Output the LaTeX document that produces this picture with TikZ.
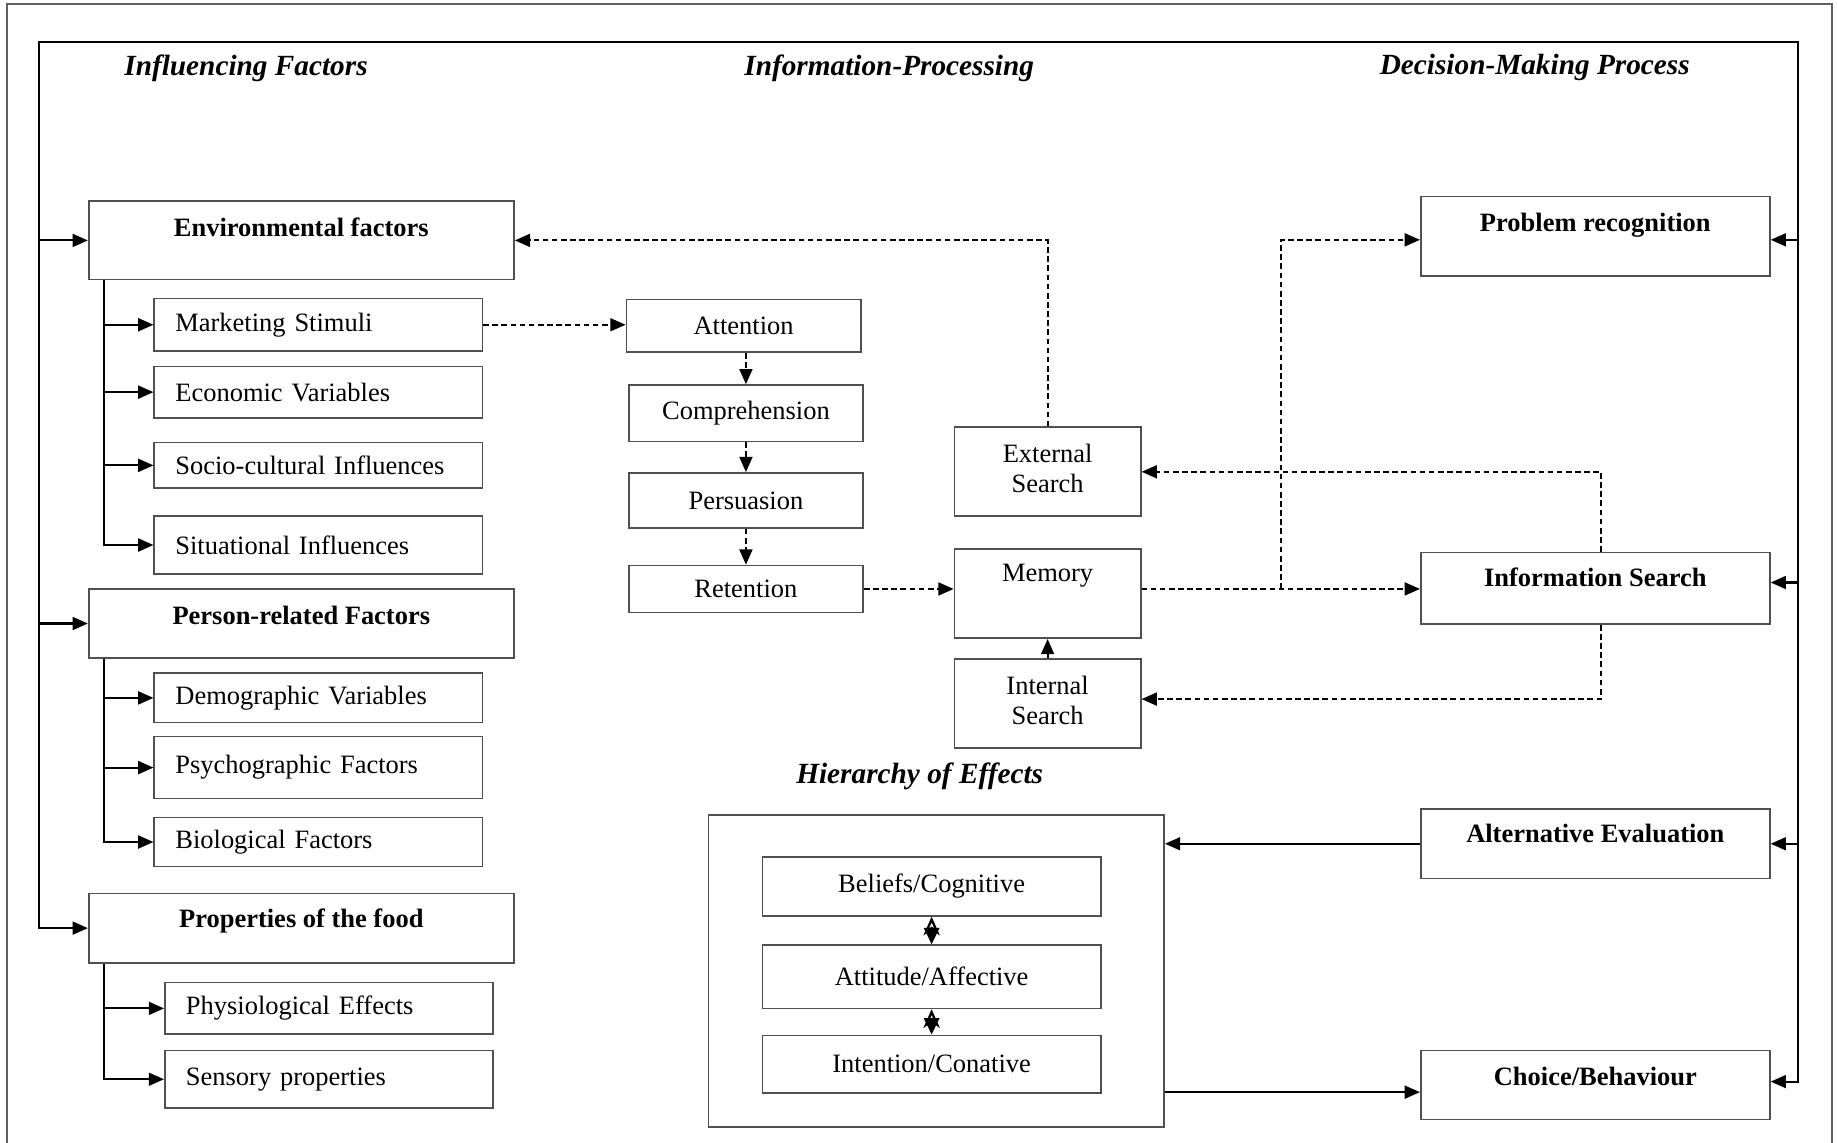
\documentclass[tikz,border=0pt]{standalone}
\usepackage{fontspec}
\setmainfont{Liberation Serif}
\usetikzlibrary{arrows.meta,calc}
\definecolor{boxgray}{HTML}{505050}
\definecolor{rimgray}{HTML}{606060}

\begin{document}
\begin{tikzpicture}[x=0.5pt,y=-0.5pt,
  txt/.style={font=\fontsize{11.3}{13.5}\selectfont},
  bold/.style={font=\fontsize{11.3}{13.5}\selectfont\bfseries},
  hdr/.style={font=\fontsize{12.5}{15}\selectfont\bfseries\itshape, inner sep=0pt},
  box/.style={draw=boxgray, line width=0.7pt, inner sep=0pt, anchor=north west},
  % box with its title near the top edge
  titlebox/.style n args={3}{box, bold, minimum width=#1, text height=#2, text depth=#3},
  % box with a left-aligned single line
  subbox/.style={box, txt, inner xsep=9pt, text width=122pt, align=left, minimum height=#1},
  % box with centred text
  cbox/.style n args={2}{box, txt, align=center, minimum width=#1, minimum height=#2},
  tip/.style={-{Triangle[length=6.5pt,width=5.5pt]}},
  conn/.style={draw=black, line width=0.9pt, tip},
  dconn/.style={draw=black, line width=0.85pt, dash pattern=on 2.4pt off 1.5pt, tip},
  both/.style={draw=black, line width=1pt,
    {Triangle[length=7pt,width=6.5pt]}-{Stealth[length=8pt,width=7pt,inset=2.5pt,open]}}
]
\useasboundingbox (0,0) rectangle (1568,975);

% outer rim of the figure
\draw[rimgray, line width=0.9pt] (6,1000) -- (6,3.5) -- (1564,3.5) -- (1564,1000);

% column headings
\node[hdr] (hIF) at (210,58) {Influencing Factors};
\node[hdr] (hIP) at (759,58) {Information-Processing};
\node[hdr] (hDM) at (1310,58) {Decision-Making Process};
\node[hdr] (hHE) at (785,663) {Hierarchy of Effects};

% influencing factors
\node[titlebox={181.5pt}{15pt}{18.5pt}] (env) at (75,171) {Environmental factors};
\node[subbox=22.5pt] (mkt) at (131,254) {Marketing Stimuli};
\node[subbox=22pt] (econ) at (131,312) {Economic Variables};
\node[subbox=19.5pt] (socio) at (131,377) {Socio-cultural Influences};
\node[subbox=24.5pt] (situ) at (131,440) {Situational Influences};

\node[titlebox={181.5pt}{15pt}{14.5pt}] (pers) at (75,502) {Person-related Factors};
\node[subbox=21pt] (demo) at (131,574) {Demographic Variables};
\node[subbox=26.5pt] (psych) at (131,628) {Psychographic Factors};
\node[subbox=21pt] (bio) at (131,697) {Biological Factors};

\node[titlebox={181.5pt}{14.5pt}{15pt}] (prop) at (75,762) {Properties of the food};
\node[subbox=22pt] (physio) at (140,838) {Physiological Effects};
\node[subbox=24.5pt] (sens) at (140,896) {Sensory properties};

% information processing
\node[cbox={100pt}{22.5pt}] (att) at (534,255) {Attention};
\node[cbox={100pt}{24pt}] (comp) at (536,328) {Comprehension};
\node[cbox={100pt}{23.5pt}] (persu) at (536,403) {Persuasion};
\node[cbox={100pt}{20pt}] (ret) at (536,482) {Retention};

\node[cbox={79.5pt}{38pt}] (ext) at (814,364) {External\\[-0.5pt]Search\rule[-3pt]{0pt}{3pt}};
\node[box, txt, minimum width=79.5pt, text height=14pt, text depth=24pt] (mem) at (814,468) {Memory};
\node[cbox={79.5pt}{38pt}] (int) at (814,562) {Internal\\[-0.5pt]Search\rule[-3pt]{0pt}{3pt}};

% decision making
\node[titlebox={149pt}{15pt}{19pt}] (prob) at (1212,167) {Problem recognition};
\node[titlebox={149pt}{14.5pt}{16pt}] (info) at (1212,471) {Information Search};
\node[titlebox={149pt}{14pt}{15.5pt}] (alt) at (1212,690) {Alternative Evaluation};
\node[titlebox={149pt}{15pt}{14.5pt}] (choice) at (1212,896) {Choice/Behaviour};

% hierarchy of effects
\node[box, minimum width=194.5pt, minimum height=133pt] (hier) at (604,695) {};
\node[cbox={144.5pt}{25pt}] (bel) at (650,731) {Beliefs/Cognitive};
\node[cbox={144.5pt}{27pt}] (attd) at (650,806) {Attitude/Affective};
\node[cbox={144.5pt}{24.5pt}] (intn) at (650,883) {Intention/Conative};

% surrounding feedback frame
\coordinate (fTL) at (33,36);
\coordinate (fTR) at (1535,36);
\coordinate (chIn) at ($(choice.east)+(0,-3)$);
\draw[draw=black, line width=0.9pt,
  {Triangle[length=6.5pt,width=5.5pt]}-{Triangle[length=6.5pt,width=5.5pt]}]
  (chIn) -- (chIn -| fTR) -- (fTR) -- (fTL) -- (fTL |- prop.west) -- (prop.west);
\draw[conn] (fTL |- env.west) -- (env.west);
\draw[conn] (fTL |- pers.west) -- (pers.west);
\coordinate (pbIn) at ($(prob.east)+(0,3)$);
\coordinate (isIn) at ($(info.east)+(0,-5)$);
\draw[conn] (pbIn -| fTR) -- (pbIn);
\draw[conn] (isIn -| fTR) -- (isIn);
\draw[conn] (alt.east -| fTR) -- (alt.east);

% branches of the factor groups
\coordinate (eT) at ($(env.south west)+(14,0)$);
\coordinate (pT) at ($(pers.south west)+(14,0)$);
\coordinate (qT) at ($(prop.south west)+(14,0)$);
\foreach \n in {mkt,econ,socio,situ} \draw[conn] (eT) |- (\n.west);
\foreach \n in {demo,psych,bio} \draw[conn] (pT) |- (\n.west);
\foreach \n in {physio,sens} \draw[conn] (qT) |- (\n.west);

% information processing chain
\draw[dconn] (mkt.east) -- (mkt.east -| att.west);
\draw[dconn] (att.south -| comp.north) -- (comp.north);
\draw[dconn] (comp.south) -- (persu.north);
\draw[dconn] (persu.south) -- (ret.north);
\coordinate (memL) at (ret.east -| mem.west);
\coordinate (memR) at (ret.east -| mem.east);
\coordinate (isL) at (ret.east -| info.west);
\draw[dconn] (ret.east) -- (memL);
\draw[dconn] (memR) -- (isL);
\coordinate (jn) at ($(memR)!0.5!(isL)$);
\coordinate (pbL) at ($(prob.west)+(0,3)$);
\draw[dconn] (jn) |- (pbL);
\draw[dconn] (ext.north) |- (env.east);
\coordinate (isTop) at ($(info.north)+(5,0)$);
\coordinate (isBot) at ($(info.south)+(5,0)$);
\coordinate (intR) at ($(int.east)+(0,-4)$);
\draw[dconn] (isTop) |- (ext.east);
\draw[dconn] (isBot) |- (intR);
\draw[conn] (int.north) -- (mem.south);

% hierarchy links
\draw[conn] (alt.west) -- (alt.west -| hier.east);
\coordinate (hOut) at ($(choice.west)+(0,6)$);
\draw[conn] (hOut -| hier.east) -- (hOut);
\draw[both] (attd.north) -- (bel.south);
\draw[both] (intn.north) -- (attd.south);
\end{tikzpicture}
\end{document}
